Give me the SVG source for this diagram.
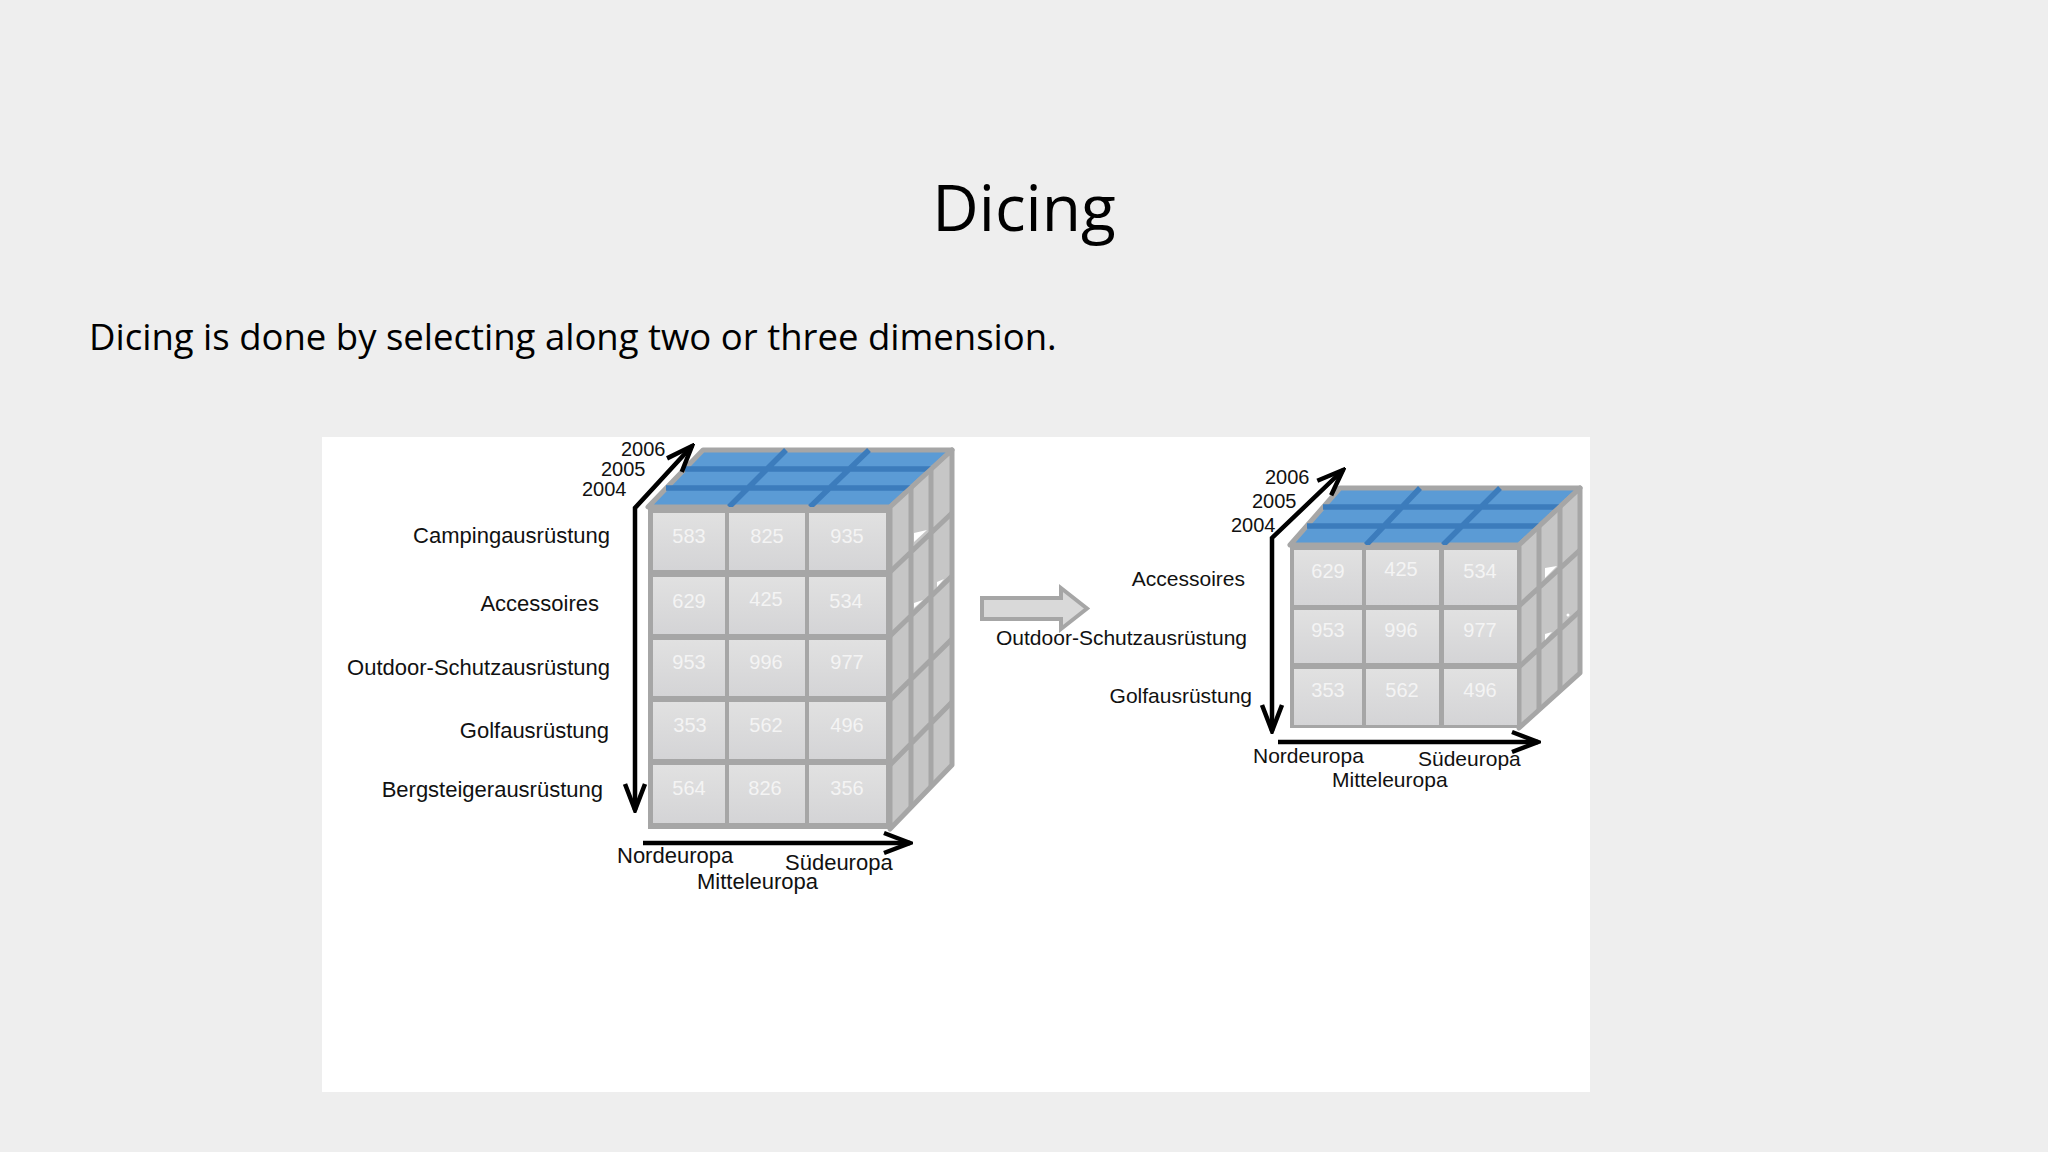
<svg xmlns="http://www.w3.org/2000/svg" width="2048" height="1152" viewBox="0 0 2048 1152">
  <defs>
    <style>
      .title { font-family: "Open Sans", "Liberation Sans", sans-serif; font-weight: 400; font-size: 64px; fill: #000; }
      .sub { font-family: "Open Sans", "Liberation Sans", sans-serif; font-size: 36.5px; fill: #000; }
      .lbl { font-family: "Liberation Sans", Arial, sans-serif; font-size: 21px; fill: #111; }
      .yr { font-family: "Liberation Sans", Arial, sans-serif; font-size: 20px; fill: #111; }
      .lblL { font-family: "Liberation Sans", Arial, sans-serif; font-size: 22px; fill: #111; }
      .num { font-family: "Liberation Sans", Arial, sans-serif; font-size: 20px; fill: #f4f4f4; text-anchor: middle; }
      .frame { fill: #a6a6a6; }
      .cell { fill: url(#cellGrad); }
      .topface { fill: #5b9bd5; stroke: #a6a6a6; stroke-width: 5; stroke-linejoin: round; }
      .topgrid { stroke: #3c7cbc; stroke-width: 5.5; fill: none; }
      .side { fill: #c6c6c6; stroke: #a6a6a6; stroke-width: 5; stroke-linejoin: round; }
      .sidegrid { stroke: #a6a6a6; stroke-width: 5; fill: none; }
      .glint { fill: #ffffff; }
      .axis { fill: none; stroke: #000; stroke-width: 4.5; stroke-linejoin: miter; marker-end: url(#open); }
    </style>
    <linearGradient id="cellGrad" x1="0" y1="0" x2="0" y2="1">
      <stop offset="0" stop-color="#e1e1e1"/>
      <stop offset="1" stop-color="#d4d4d6"/>
    </linearGradient>
    <marker id="open" viewBox="0 0 32 26" refX="29" refY="13" markerWidth="32" markerHeight="26" markerUnits="userSpaceOnUse" orient="auto-start-reverse">
      <path d="M3,3 L29,13 L3,23" fill="none" stroke="#000" stroke-width="4.5"/>
    </marker>
  </defs>

  <rect x="0" y="0" width="2048" height="1152" fill="#eeeeee"/>

  <g id="title">
    <text class="title" x="1024" y="231" text-anchor="middle">Dicing</text>
  </g>
  <g id="subtitle">
    <text class="sub" x="89" y="350">Dicing is done by selecting along two or three dimension.</text>
  </g>

  <g id="picture-area">
    <rect x="322" y="437" width="1268" height="655" fill="#ffffff"/>
  </g>

  <!-- Left cube -->
  <g id="cube-full">
    <g id="cube-full-top">
      <polygon class="topface" points="648,507 890,507 952,450 703,450"/>
      <path class="topgrid" d="M729,507 L786,450 M810,507 L869,450 M666,488 L911,488 M685,469 L931,469"/>
    </g>
    <g id="cube-full-side">
      <polygon class="side" points="890,507 952,450 952,765 890,829"/>
      <path class="sidegrid" d="M911,488 L911,808 M931,469 L931,786 M890,572 L952,513 M890,636 L952,576 M890,700 L952,639 M890,765 L952,702"/>
      <polygon class="glint" points="914,533 927,530 914,542"/>
      <polygon class="glint" points="937,582 944,579 937,587"/>
      <polygon class="glint" points="914,603 923,600 914,608"/>
    </g>
    <g id="cube-full-front">
      <rect class="frame" x="648" y="507" width="242" height="322"/>
      <rect class="cell" x="653" y="513" width="72" height="57"/>
      <rect class="cell" x="729" y="513" width="76" height="57"/>
      <rect class="cell" x="809" y="513" width="77" height="57"/>
      <rect class="cell" x="653" y="577" width="72" height="57"/>
      <rect class="cell" x="729" y="577" width="76" height="57"/>
      <rect class="cell" x="809" y="577" width="77" height="57"/>
      <rect class="cell" x="653" y="640" width="72" height="56"/>
      <rect class="cell" x="729" y="640" width="76" height="56"/>
      <rect class="cell" x="809" y="640" width="77" height="56"/>
      <rect class="cell" x="653" y="702" width="72" height="57"/>
      <rect class="cell" x="729" y="702" width="76" height="57"/>
      <rect class="cell" x="809" y="702" width="77" height="57"/>
      <rect class="cell" x="653" y="765" width="72" height="58"/>
      <rect class="cell" x="729" y="765" width="76" height="58"/>
      <rect class="cell" x="809" y="765" width="77" height="58"/>
      <text class="num" x="689" y="543">583</text>
      <text class="num" x="767" y="543">825</text>
      <text class="num" x="847" y="543">935</text>
      <text class="num" x="689" y="608">629</text>
      <text class="num" x="766" y="606">425</text>
      <text class="num" x="846" y="608">534</text>
      <text class="num" x="689" y="669">953</text>
      <text class="num" x="766" y="669">996</text>
      <text class="num" x="847" y="669">977</text>
      <text class="num" x="690" y="732">353</text>
      <text class="num" x="766" y="732">562</text>
      <text class="num" x="847" y="732">496</text>
      <text class="num" x="689" y="795">564</text>
      <text class="num" x="765" y="795">826</text>
      <text class="num" x="847" y="795">356</text>
    </g>
  </g>

  <g id="labels-full">
    <text class="yr" x="621" y="456">2006</text>
    <text class="yr" x="601" y="476">2005</text>
    <text class="yr" x="582" y="496">2004</text>
    <text class="lblL" x="610" y="543" text-anchor="end">Campingausrüstung</text>
    <text class="lblL" x="599" y="611" text-anchor="end">Accessoires</text>
    <text class="lblL" x="610" y="675" text-anchor="end">Outdoor-Schutzausrüstung</text>
    <text class="lblL" x="609" y="738" text-anchor="end">Golfausrüstung</text>
    <text class="lblL" x="603" y="797" text-anchor="end">Bergsteigerausrüstung</text>
    <text class="lblL" x="617" y="863">Nordeuropa</text>
    <text class="lblL" x="785" y="870">Südeuropa</text>
    <text class="lblL" x="697" y="889">Mitteleuropa</text>
  </g>

  <!-- Dice arrow -->
  <g id="dice-arrow">
    <polygon points="982,598 1061,598 1061,588 1087,608.5 1061,629 1061,619 982,619" fill="#d9d9d9" stroke="#a6a6a6" stroke-width="4" stroke-linejoin="miter"/>
  </g>

  <!-- Right cube -->
  <g id="cube-diced">
    <g id="cube-diced-top">
      <polygon class="topface" points="1290,545 1519,545 1580,488 1340,488"/>
      <path class="topgrid" d="M1366,545 L1420,488 M1443,545 L1500,488 M1307,526 L1539,526 M1323,507 L1560,507"/>
    </g>
    <g id="cube-diced-side">
      <polygon class="side" points="1519,545 1580,488 1580,673 1519,728"/>
      <path class="sidegrid" d="M1539,526 L1539,710 M1560,507 L1560,691 M1519,606 L1580,550 M1519,667 L1580,611"/>
      <polygon class="glint" points="1545,568 1557,566 1545,578"/>
      <polygon class="glint" points="1545,634 1552,632 1545,640"/>
      <circle class="glint" cx="1568" cy="615" r="1.5"/>
    </g>
    <g id="cube-diced-front">
      <rect class="frame" x="1290" y="545" width="229" height="183"/>
      <rect class="cell" x="1294" y="550" width="68" height="55"/>
      <rect class="cell" x="1366" y="550" width="73" height="55"/>
      <rect class="cell" x="1444" y="550" width="73" height="55"/>
      <rect class="cell" x="1294" y="610" width="68" height="53"/>
      <rect class="cell" x="1366" y="610" width="73" height="53"/>
      <rect class="cell" x="1444" y="610" width="73" height="53"/>
      <rect class="cell" x="1294" y="669" width="68" height="56"/>
      <rect class="cell" x="1366" y="669" width="73" height="56"/>
      <rect class="cell" x="1444" y="669" width="73" height="56"/>
      <text class="num" x="1328" y="578">629</text>
      <text class="num" x="1401" y="576">425</text>
      <text class="num" x="1480" y="578">534</text>
      <text class="num" x="1328" y="637">953</text>
      <text class="num" x="1401" y="637">996</text>
      <text class="num" x="1480" y="637">977</text>
      <text class="num" x="1328" y="697">353</text>
      <text class="num" x="1402" y="697">562</text>
      <text class="num" x="1480" y="697">496</text>
    </g>
  </g>

  <g id="labels-diced">
    <text class="yr" x="1265" y="484">2006</text>
    <text class="yr" x="1252" y="508">2005</text>
    <text class="yr" x="1231" y="532">2004</text>
    <text class="lbl" x="1245" y="586" text-anchor="end">Accessoires</text>
    <text class="lbl" x="1247" y="645" text-anchor="end">Outdoor-Schutzausrüstung</text>
    <text class="lbl" x="1252" y="703" text-anchor="end">Golfausrüstung</text>
    <text class="lbl" x="1253" y="763">Nordeuropa</text>
    <text class="lbl" x="1418" y="766">Südeuropa</text>
    <text class="lbl" x="1332" y="787">Mitteleuropa</text>
  </g>

  <g id="connectors">
    <path class="axis" style="marker-start: url(#open)" d="M692,446 L635,508 L635,810"/>
    <path class="axis" d="M643,843 L910,843"/>
    <path class="axis" style="marker-start: url(#open)" d="M1343,470 L1272,538 L1272,731"/>
    <path class="axis" d="M1278,742 L1538,742"/>
  </g>
</svg>
